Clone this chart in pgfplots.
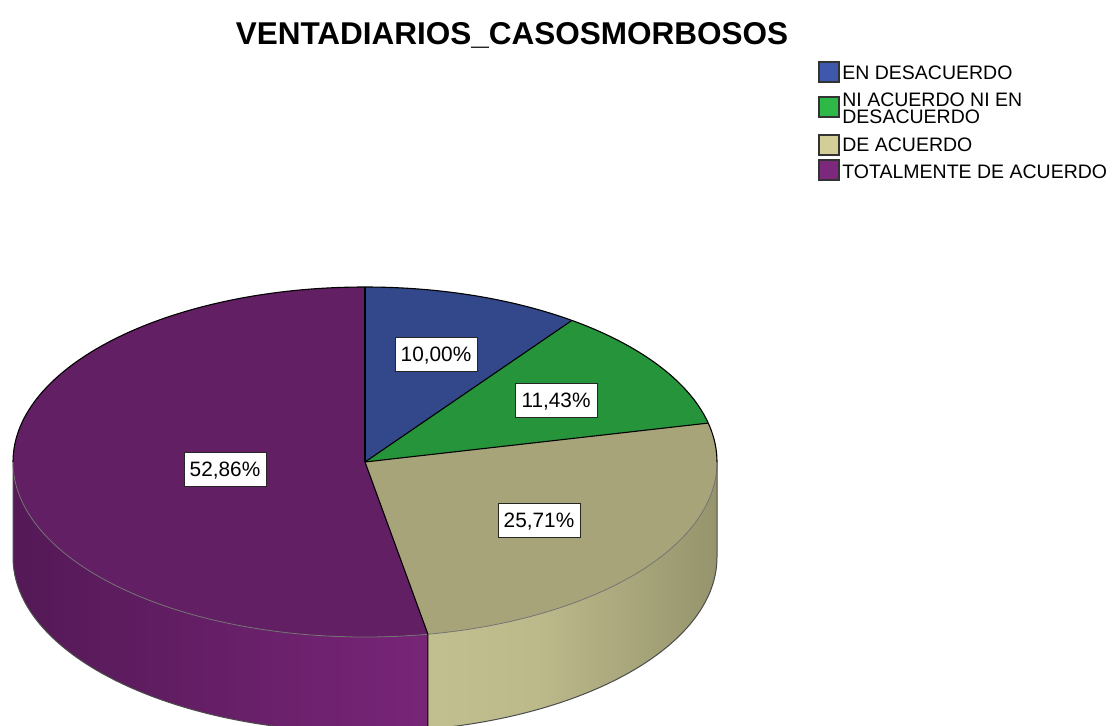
\documentclass[border=0pt]{standalone}
\usepackage{pgfplots}
\pgfplotsset{compat=1.18}
\usepackage{fontspec}
\setmainfont{Liberation Sans}
\definecolor{tblue}{RGB}{50,72,138}
\definecolor{tgreen}{RGB}{38,148,58}
\definecolor{tkhaki}{RGB}{168,164,121}
\definecolor{tpurple}{RGB}{99,31,99}
\definecolor{lblue}{RGB}{62,88,172}
\definecolor{lgreen}{RGB}{46,184,72}
\definecolor{lkhaki}{RGB}{211,206,151}
\definecolor{lpurple}{RGB}{124,40,125}
\definecolor{spurpleL}{RGB}{84,25,86}
\definecolor{spurpleR}{RGB}{120,37,120}
\definecolor{skhakiL}{RGB}{197,194,146}
\definecolor{skhakiR}{RGB}{150,148,108}
\tikzset{ell/.style={x radius=176pt,y radius=87.5pt},
  lab/.style={draw=black!85, line width=0.5pt, fill=white, inner sep=0pt,
    minimum width=41pt, minimum height=17pt, text height=7.5pt, text depth=0pt,
    font=\fontsize{10.4pt}{12pt}\selectfont},
  leg/.style={anchor=base west, inner sep=0pt, font=\fontsize{9.75pt}{11pt}\selectfont},
  sq/.style={draw=black!80, line width=0.7pt}}
\begin{document}
\begin{tikzpicture}
% percentages of the four categories
\def\vA{10.00}\def\vB{11.43}\def\vC{25.71}\def\vD{52.86}
\pgfmathsetmacro{\sA}{90}
\pgfmathsetmacro{\eA}{\sA-3.6*\vA}
\pgfmathsetmacro{\eB}{\eA-3.6*\vB}
\pgfmathsetmacro{\eC}{\eB-3.6*\vC}
\pgfmathsetmacro{\eD}{\eC-3.6*\vD}
\pgfmathsetmacro{\pk}{360+\eC}
\begin{axis}[scale only axis, width=556.5pt, height=362.5pt,
  xmin=0, xmax=1113, ymin=0, ymax=725, hide axis, clip=true]
% side faces
\shade[left color=spurpleL, right color=spurpleR]
  (axis cs:13,263) arc[ell,start angle=180,end angle=\pk] -- ++(0,-47.5pt)
  arc[ell,start angle=\pk,end angle=180] -- cycle;
\shade[left color=skhakiL, right color=skhakiR, middle color=skhakiL!80!skhakiR]
  (axis cs:365,263) ++(\pk:176pt and 87.5pt) arc[ell,start angle=\pk,end angle=360] -- ++(0,-47.5pt)
  arc[ell,start angle=360,end angle=\pk] -- cycle;
% top faces
\fill[tblue] (axis cs:365,263) -- ++(\sA:176pt and 87.5pt) arc[ell,start angle=\sA,end angle=\eA] -- cycle;
\fill[tgreen] (axis cs:365,263) -- ++(\eA:176pt and 87.5pt) arc[ell,start angle=\eA,end angle=\eB] -- cycle;
\fill[tkhaki] (axis cs:365,263) -- ++(\eB:176pt and 87.5pt) arc[ell,start angle=\eB,end angle=\eC] -- cycle;
\fill[tpurple] (axis cs:365,263) -- ++(\eC:176pt and 87.5pt) arc[ell,start angle=\eC,end angle=\eD] -- cycle;
% outlines
\draw[black, line width=0.55pt] (axis cs:717,263) arc[ell,start angle=0,end angle=180];
\draw[black!55, line width=0.4pt] (axis cs:13,263) arc[ell,start angle=180,end angle=360];
\draw[black!70, line width=0.5pt] (axis cs:13,263) -- (axis cs:13,168)
  arc[ell,start angle=180,end angle=360] -- (axis cs:717,263);
\draw[black, line width=0.55pt] (axis cs:365,263) -- ++(\sA:176pt and 87.5pt);
\draw[black, line width=0.55pt] (axis cs:365,263) -- ++(\eA:176pt and 87.5pt);
\draw[black, line width=0.55pt] (axis cs:365,263) -- ++(\eB:176pt and 87.5pt);
\draw[black, line width=0.55pt] (axis cs:365,263) -- ++(\eC:176pt and 87.5pt) -- ++(0,-47.5pt);
% value labels
\node[lab] at (axis cs:436,371) {10,00\%};
\node[lab] at (axis cs:556,325) {11,43\%};
\node[lab] at (axis cs:539,205) {25,71\%};
\node[lab] at (axis cs:225,256) {52,86\%};
% title
\node[anchor=base, inner sep=0pt, font=\bfseries\fontsize{15.75pt}{18pt}\selectfont] at (axis cs:512,681) {VENTADIARIOS\_CASOSMORBOSOS};
% legend
\draw[sq, fill=lblue] (axis cs:819,643) rectangle (axis cs:839,663);
\draw[sq, fill=lgreen] (axis cs:819,608) rectangle (axis cs:839,628);
\draw[sq, fill=lkhaki] (axis cs:819,570) rectangle (axis cs:839,590);
\draw[sq, fill=lpurple] (axis cs:819,545) rectangle (axis cs:839,565);
\node[leg] at (axis cs:842,646) {EN DESACUERDO};
\node[leg] at (axis cs:842,619) {NI ACUERDO NI EN};
\node[leg] at (axis cs:842,602) {DESACUERDO};
\node[leg] at (axis cs:842,574) {DE ACUERDO};
\node[leg] at (axis cs:842,547) {TOTALMENTE DE ACUERDO};
\end{axis}
\pgfresetboundingbox
\useasboundingbox (0,0) rectangle (556.5pt,362.5pt);
\end{tikzpicture}
\end{document}
